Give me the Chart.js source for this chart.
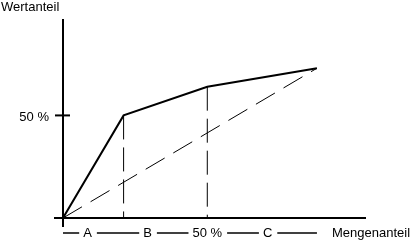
<!DOCTYPE html>
<html>
<head>
<meta charset="utf-8">
<script src="https://cdn.jsdelivr.net/npm/chart.js@4"></script>
<style>
    body { margin: 0; background: #fff; }
</style>
</head>
<body>
<canvas id="myChart" width="412" height="242"></canvas>
<script>
    // Mengenanteil (x) / Wertanteil (y) in %
    const mengenanteil = [0, 21, 50, 88];
    const wertanteil = [0, 50, 64, 73];

    // Abschnitte unter der x-Achse
    const abschnitte = ['A', 'B', '50 %', 'C'];
    const abschnittMitte = [8.5, 29.3, 50, 70.9];

    const yTicks = [50];
    const yTickLabels = ['50 %'];

    const ctx = document.getElementById('myChart');
    const schrift = '13px "Liberation Sans", Arial, sans-serif';

    const kurve = mengenanteil.map((m, i) => ({ x: m, y: wertanteil[i] }));
    const letzter = kurve[kurve.length - 1];

    const achsen = {
        id: 'achsen',
        afterDraw(chart) {
            const c = chart.ctx;
            const xs = chart.scales.x;
            const ys = chart.scales.y;
            const x0 = xs.getPixelForValue(0);
            const y0 = ys.getPixelForValue(0);

            c.save();
            c.strokeStyle = '#000';
            c.fillStyle = '#000';
            c.lineWidth = 2;

            // y-Achse
            c.beginPath();
            c.moveTo(x0, chart.chartArea.top);
            c.lineTo(x0, y0 + 9);
            c.stroke();

            // x-Achse
            c.beginPath();
            c.moveTo(x0 - 9, y0);
            c.lineTo(chart.chartArea.right, y0);
            c.stroke();

            c.font = schrift;

            // y-Ticks
            yTicks.forEach((t, i) => {
                const y = ys.getPixelForValue(t);
                c.beginPath();
                c.moveTo(x0 - 8, y);
                c.lineTo(x0 + 7, y);
                c.stroke();
                c.textAlign = 'right';
                c.textBaseline = 'middle';
                c.fillText(yTickLabels[i], x0 - 14, y + 2);
            });

            // Achsentitel
            c.textAlign = 'left';
            c.textBaseline = 'alphabetic';
            c.fillText('Wertanteil', 1, 11);
            c.fillText('Mengenanteil', chart.chartArea.right - 34, 237);

            // Abschnitte mit Strichen dazwischen
            const yRow = 233;
            let start = x0;
            c.lineWidth = 1.5;
            abschnitte.forEach((txt, i) => {
                const mx = xs.getPixelForValue(abschnittMitte[i]);
                const w = c.measureText(txt).width;
                c.beginPath();
                c.moveTo(start, yRow);
                c.lineTo(mx - w / 2 - 4, yRow);
                c.stroke();
                c.textAlign = 'center';
                c.fillText(txt, mx, 237);
                start = mx + w / 2 + 5;
            });
            c.beginPath();
            c.moveTo(start, yRow);
            c.lineTo(xs.getPixelForValue(letzter.x), yRow);
            c.stroke();
            c.restore();
        }
    };

    new Chart(ctx, {
        type: 'scatter',
        data: {
            datasets: [
                {
                    label: 'Wertanteil',
                    data: kurve,
                    showLine: true,
                    borderColor: '#000',
                    borderWidth: 2,
                    pointRadius: 0
                },
                {
                    label: 'Diagonale',
                    data: [{ x: 0, y: 0 }, letzter],
                    showLine: true,
                    borderColor: '#000',
                    borderWidth: 1,
                    borderDash: [22, 10],
                    pointRadius: 0
                },
                {
                    label: 'A/B',
                    data: [{ x: mengenanteil[1], y: wertanteil[1] }, { x: mengenanteil[1], y: 0 }],
                    showLine: true,
                    borderColor: '#000',
                    borderWidth: 1,
                    borderDash: [24, 8],
                    pointRadius: 0
                },
                {
                    label: '50 %',
                    data: [{ x: mengenanteil[2], y: wertanteil[2] }, { x: mengenanteil[2], y: 0 }],
                    showLine: true,
                    borderColor: '#000',
                    borderWidth: 1,
                    borderDash: [24, 8],
                    pointRadius: 0
                }
            ]
        },
        options: {
            responsive: false,
            animation: false,
            layout: {
                padding: { left: 63, right: 46, top: 19, bottom: 24 }
            },
            scales: {
                x: { type: 'linear', min: 0, max: 105, display: false },
                y: { type: 'linear', min: 0, max: 97, display: false }
            },
            plugins: {
                legend: { display: false },
                tooltip: { enabled: false }
            }
        },
        plugins: [achsen]
    });
</script>
</body>
</html>
